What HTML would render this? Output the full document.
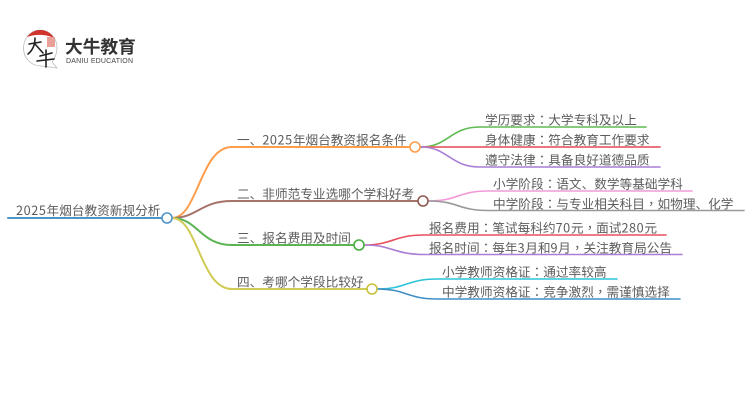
<!DOCTYPE html>
<html><head><meta charset="utf-8"><style>
html,body{margin:0;padding:0;background:#fff}
svg{display:block}
text{font-family:"WenQuanYi Zen Hei","Noto Sans CJK SC",sans-serif;font-size:12.67px;fill:#5c5c5c}
.p{font-family:"Noto Sans CJK TC",sans-serif}
.d{letter-spacing:.6px}
path{fill:none;stroke-linecap:round}
circle{fill:#fff;stroke-width:1.6}
</style></head><body>
<svg width="750" height="410" viewBox="0 0 750 410" xmlns="http://www.w3.org/2000/svg">
<!-- logo -->
<path d="M40 30C30 30 23.500 39 23.500 48C23.500 59 32 66 41 66L57 68L52 62C55 58 57 54 57 48C57 38 50 30 40 30Z" style="fill:#fff;stroke:#bbb;stroke-width:.8"/>
<path d="M27 37C30 33 35 30 40 30C46 30 51 33 54 38C46 34 35 34 27 37Z" style="fill:#d0322c;stroke:none"/>
<rect x="47" y="37" width="8" height="10" fill="#e8a098"/>
<path d="M29 44L41 42M35 38C35 45 33 50 28 54M35 44L43 53" style="stroke:#222;stroke-width:1.6"/>
<path d="M40 56L52 53M46 50L46 67M37 61L54 59" style="stroke:#222;stroke-width:1.6"/>
<text x="65" y="53" style="font-family:'Noto Sans CJK SC',sans-serif;font-size:17.700px;font-weight:700;fill:#333">大牛教育</text>
<text x="66" y="63" style="font-family:'Liberation Sans',sans-serif;font-size:7px;fill:#444" textLength="67">DANIU EDUCATION</text>
<!-- main connectors -->
<path d="M8 218H162" stroke="#4f94c8" stroke-width="2"/>
<path d="M172 218C198 218 200 147 232 147H409" stroke="#ff9d4d" stroke-width="2"/>
<path d="M172 218C198 218 200 201 232 201H417" stroke="#a6736b" stroke-width="2"/>
<path d="M172 218C198 218 200 245 232 245H353" stroke="#5bb553" stroke-width="2"/>
<path d="M172 218C198 218 200 289 232 289H366" stroke="#cfcb55" stroke-width="2"/>
<!-- children -->
<path d="M421 147C448 147 450 127 480 127H646" stroke="#5dbb52" stroke-width="1.6"/>
<path d="M421 147H660" stroke="#e8636b" stroke-width="1.8"/>
<path d="M421 147C448 147 450 167 480 167H660" stroke="#a97fd6" stroke-width="1.6"/>
<path d="M429 201C458 201 458 191 488 191H692" stroke="#f29ad8" stroke-width="1.6"/>
<path d="M429 201C458 201 458 210.500 488 210.500H744" stroke="#999" stroke-width="1.6"/>
<path d="M365 245C392 245 394 235 424 235H666" stroke="#e8505f" stroke-width="1.6"/>
<path d="M365 245C392 245 394 254.500 424 254.500H682" stroke="#ab7fd6" stroke-width="1.6"/>
<path d="M378 289C406 289 407 279 437 279H617" stroke="#2cc3d8" stroke-width="1.6"/>
<path d="M378 289C406 289 407 299 437 299H680" stroke="#3f8fc6" stroke-width="1.6"/>
<!-- nodes -->
<circle cx="167" cy="218" r="5" stroke="#4f94c8"/>
<circle cx="415" cy="147" r="5" stroke="#ff9d4d"/>
<circle cx="423" cy="201" r="5" stroke="#8f5a50"/>
<circle cx="359" cy="245" r="5" stroke="#46ad3f"/>
<circle cx="372" cy="289" r="5" stroke="#c6c23a"/>
<!-- labels -->
<text x="16" y="215"><tspan class="d">2025</tspan>年烟台教资新规分析</text>
<text x="237" y="144.500">一、<tspan class="d">2025</tspan>年烟台教资报名条件</text>
<text x="237" y="198.500">二、非师范专业选哪个学科好考</text>
<text x="237" y="242.500">三、报名费用及时间</text>
<text x="237" y="286.500">四、考哪个学段比较好</text>
<text x="485" y="124.500">学历要求<tspan class="p">：</tspan>大学专科及以上</text>
<text x="485" y="144.500">身体健康<tspan class="p">：</tspan>符合教育工作要求</text>
<text x="485" y="164.500">遵守法律<tspan class="p">：</tspan>具备良好道德品质</text>
<text x="493" y="188.500">小学阶段<tspan class="p">：</tspan>语文、数学等基础学科</text>
<text x="493" y="208.500">中学阶段<tspan class="p">：</tspan>与专业相关科目<tspan class="p">，</tspan>如物理、化学</text>
<text x="429" y="232.500">报名费用<tspan class="p">：</tspan>笔试每科约<tspan class="d">70</tspan>元<tspan class="p">，</tspan>面试<tspan class="d">280</tspan>元</text>
<text x="429" y="252.500">报名时间<tspan class="p">：</tspan>每年<tspan class="d">3</tspan>月和<tspan class="d">9</tspan>月<tspan class="p">，</tspan>关注教育局公告</text>
<text x="442" y="276.500">小学教师资格证<tspan class="p">：</tspan>通过率较高</text>
<text x="442" y="296.500">中学教师资格证<tspan class="p">：</tspan>竞争激烈<tspan class="p">，</tspan>需谨慎选择</text>
</svg>
</body></html>
